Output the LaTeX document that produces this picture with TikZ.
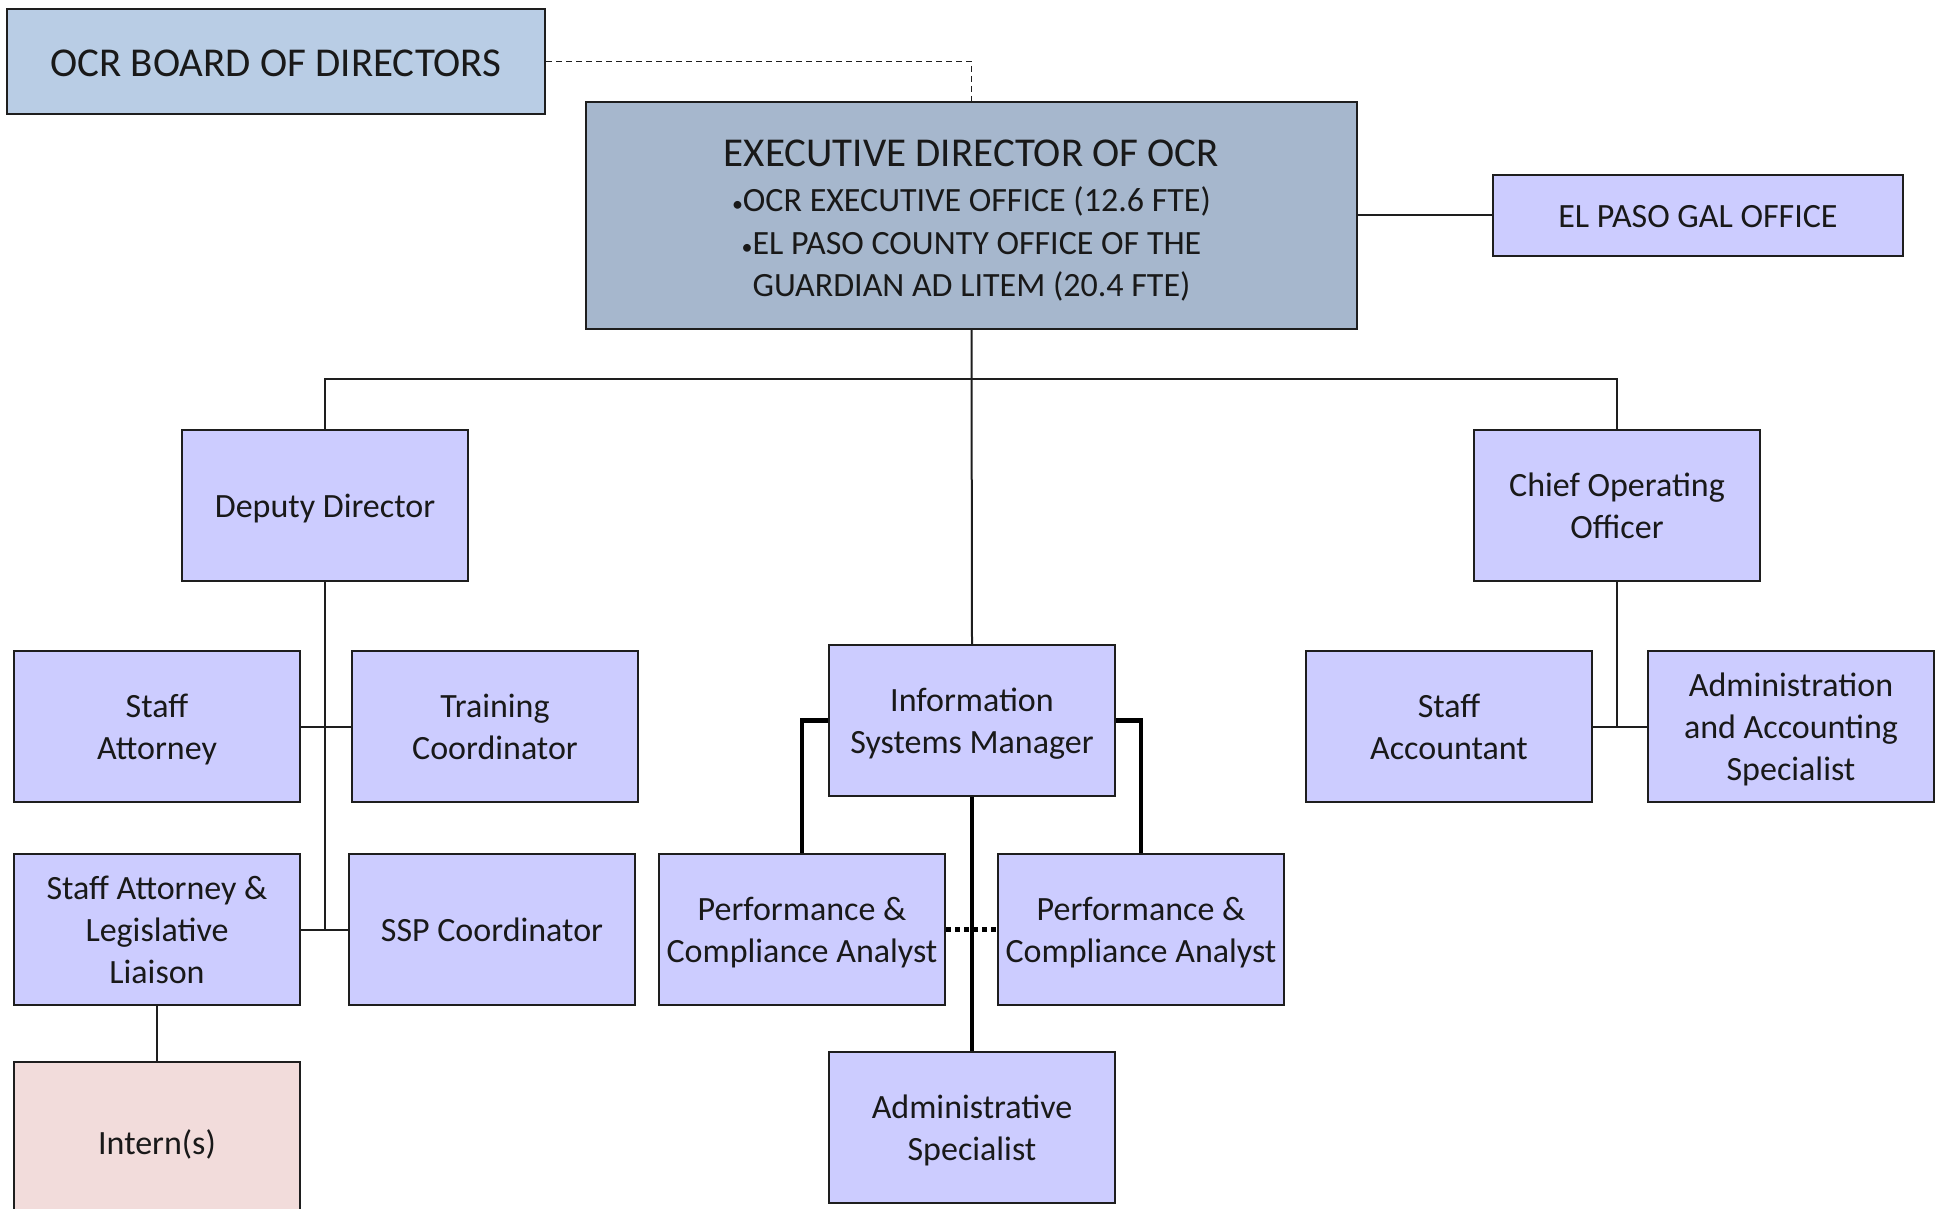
\documentclass[tikz,border=0pt]{standalone}
\usepackage{fontspec}
\setmainfont{Carlito}
\usetikzlibrary{calc}
\definecolor{lav}{HTML}{CCCCFF}
\definecolor{boardc}{HTML}{B9CDE5}
\definecolor{execc}{HTML}{A6B7CD}
\definecolor{internc}{HTML}{F2DCDB}
\definecolor{edge}{HTML}{1E1E1E}
\newcommand{\smallbullet}{{\fontsize{22}{0}\selectfont•}}
% centred text block whose first line gets a fixed ascent, as in the original
\newcommand{\bx}[2][37pt]{\begin{tabular}{@{}c@{}}\rule{0pt}{#1}#2\end{tabular}}
\tikzset{
  box/.style={draw=edge, line width=2pt, fill=lav, inner sep=0pt,
    minimum width=286pt, minimum height=151pt, text=black!90,
    font=\fontsize{34}{42}\selectfont},
  link/.style={draw=edge, line width=2pt},
  thick link/.style={draw=black, line width=4.5pt},
}
\begin{document}
\begin{tikzpicture}[x=1pt,y=-1pt]
\useasboundingbox (0,0) rectangle (1941,1209);
\clip (0,0) rectangle (1941,1209);
% top
\node[box, fill=boardc, minimum width=538pt, minimum height=105pt,
  font=\fontsize{41}{48}\selectfont] (board) at (276,61.5) {\bx[45pt]{OCR BOARD OF DIRECTORS}};
\node[box, fill=execc, minimum width=771pt, minimum height=227pt] (exec) at (971.5,215.5)
  {\bx[45pt]{{\fontsize{41}{48}\selectfont EXECUTIVE DIRECTOR OF OCR}\\[3pt]
   \smallbullet OCR EXECUTIVE OFFICE (12.6 FTE)\\[1pt]
   \smallbullet EL PASO COUNTY OFFICE OF THE\\
   GUARDIAN AD LITEM (20.4 FTE)}};
\node[box, minimum width=410pt, minimum height=81pt] (gal) at (1698,215.5) {\bx{EL PASO GAL OFFICE}};
% second level
\node[box] (dd) at (325,505.5) {\bx{Deputy Director}};
\node[box] (coo) at (1617,505.5) {\bx{Chief Operating\\Officer}};
\node[box] (ism) at (972,720.5) {\bx{Information\\Systems Manager}};
% deputy branch
\node[box] (sa) at (157,726.5) {\bx{Staff\\Attorney}};
\node[box] (tc) at (495,726.5) {\bx{Training\\Coordinator}};
\node[box] (sal) at (157,929.5) {\bx{Staff Attorney \&\\Legislative\\Liaison}};
\node[box] (ssp) at (492,929.5) {\bx{SSP Coordinator}};
\node[box, fill=internc, minimum height=160pt] (intern) at (157,1142) {\bx{Intern(s)}};
% ISM branch
\node[box] (pc1) at (802,929.5) {\bx{Performance \&\\Compliance Analyst}};
\node[box] (pc2) at (1141,929.5) {\bx{Performance \&\\Compliance Analyst}};
\node[box] (adm) at (972,1127.5) {\bx{Administrative\\Specialist}};
% COO branch
\node[box] (sacc) at (1449,726.5) {\bx{Staff\\Accountant}};
\node[box] (aas) at (1791,726.5) {\bx{Administration\\and Accounting\\Specialist}};
% connectors
\coordinate (bus) at (0,379);
\draw[link, dash pattern=on 6pt off 4pt, line width=1.5pt] (board.east) -| (exec.north);
\draw[link] (exec.east) -- (gal.west);
\draw[link] (exec.south) -- (ism.north);
\draw[link] (dd.north) -- (dd.north |- bus) -- (coo.north |- bus) -- (coo.north);
\draw[link] (dd.south) -- (dd.south |- sal.east);
\draw[link] (sa.east) -- (tc.west);
\draw[link] (sal.east) -- (ssp.west);
\draw[link] (sal.south) -- (intern.north);
\draw[link] (coo.south) -- (coo.south |- sacc.east);
\draw[link] (sacc.east) -- (aas.west);
\draw[thick link] (ism.west) -| (pc1.north);
\draw[thick link] (ism.east) -| (pc2.north);
\draw[thick link] (ism.south) -- (adm.north);
\draw[thick link, dash pattern=on 4.5pt off 4.5pt] (pc1.east) -- (pc2.west);
\end{tikzpicture}
\end{document}
